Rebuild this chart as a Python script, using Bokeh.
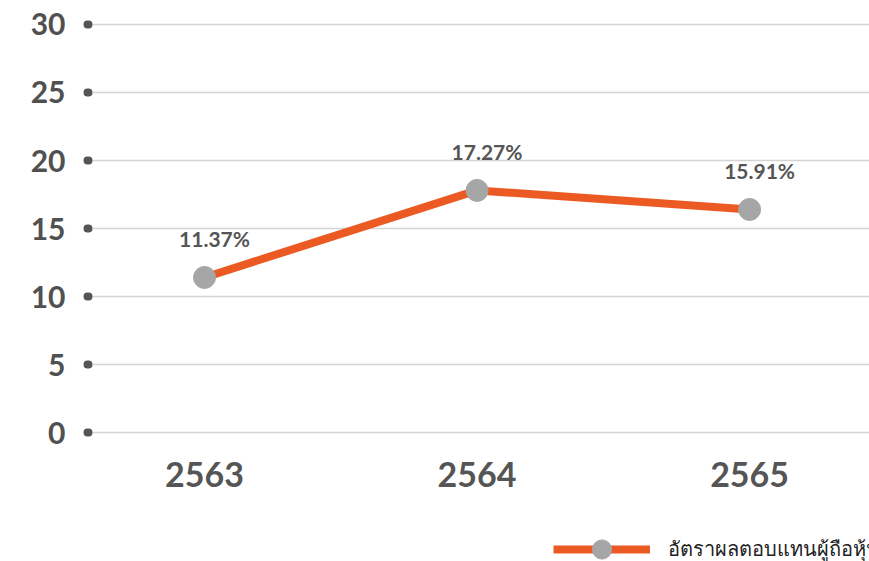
from bokeh.plotting import figure
from bokeh.models import Range1d, FixedTicker, ColumnDataSource, Legend, LegendItem, LabelSet
from bokeh.core.properties import value
from bokeh.embed import file_html
from bokeh.resources import INLINE

years = ["2563", "2564", "2565"]
roe_values = [11.4, 17.8, 16.4]
roe_labels = ["11.37%", "17.27%", "15.91%"]
y_ticks = [0, 5, 10, 15, 20, 25, 30]
series_name = "อัตราผลตอบแทนผู้ถือหุ้น"

xs = list(range(len(years)))
src = ColumnDataSource(data=dict(x=xs, y=roe_values, lab=roe_labels))
axis_src = ColumnDataSource(data=dict(x=xs, y=[0] * len(xs), year=years))

p = figure(width=869, height=561, output_backend="svg", toolbar_location=None,
           x_range=Range1d(-0.411, 2.44), y_range=Range1d(-9.485, 30.147),
           min_border_left=92, min_border_right=0, min_border_top=22, min_border_bottom=0)
p.outline_line_color = None
p.background_fill_color = "white"
p.border_fill_color = "white"

TEXT = "#555555"

# y axis with dot ticks
p.yaxis.ticker = FixedTicker(ticks=y_ticks)
p.yaxis.axis_line_color = None
p.yaxis.major_tick_in = -4
p.yaxis.major_tick_out = 5
p.yaxis.major_tick_line_width = 8
p.yaxis.major_tick_line_cap = "round"
p.yaxis.major_tick_line_color = "#555555"
p.yaxis.minor_tick_line_color = None
p.yaxis.major_label_text_font = "Lato"
p.yaxis.major_label_text_font_style = "bold"
p.yaxis.major_label_text_font_size = "30px"
p.yaxis.major_label_text_color = "#505050"
p.yaxis.major_label_standoff = 22

p.xaxis.visible = False
p.xgrid.grid_line_color = None
p.ygrid.ticker = FixedTicker(ticks=y_ticks)
p.ygrid.grid_line_color = "#d4d4d4"
p.ygrid.grid_line_width = 1.5

# category labels under the 0 line
cat_labels = LabelSet(x="x", y="y", text="year", source=axis_src, y_offset=-42,
                      text_align="center", text_baseline="middle",
                      text_font=value("Lato"), text_font_style="bold",
                      text_font_size="34px", text_color=TEXT)
p.add_layout(cat_labels)

ln = p.line("x", "y", source=src, line_color="#EC5A24", line_width=8)
sc = p.scatter("x", "y", source=src, size=22, fill_color="#A6A6A6", line_color="#A6A6A6")

labels = LabelSet(x="x", y="y", text="lab", source=src, x_offset=10, y_offset=39,
                  text_align="center", text_baseline="middle",
                  text_font=value("Lato"), text_font_style="bold",
                  text_font_size="21px", text_color=TEXT)
p.add_layout(labels)

legend = Legend(items=[LegendItem(label=series_name, renderers=[ln, sc])],
                location=(461, -12), orientation="horizontal",
                glyph_width=97, glyph_height=48, padding=0, margin=0, spacing=0,
                label_standoff=18, border_line_color=None, background_fill_alpha=0,
                label_text_font="Noto Sans", label_text_font_size="20px",
                label_text_color="#222222")
p.add_layout(legend, "center")

open("out.html", "w").write(file_html(p, INLINE))
